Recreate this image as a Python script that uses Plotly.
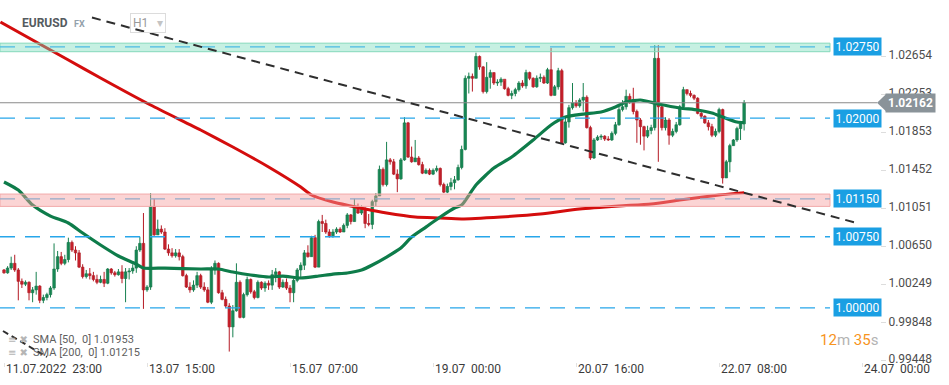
import plotly.graph_objects as go

# ---------------- data ----------------
symbol = "EURUSD"
open_first = 1.0040
close = [
1.0037, 1.0042, 1.0047, 1.0040, 1.0028, 1.0025, 1.0027, 1.0016, 1.0019, 1.0023,
1.0008, 1.0011, 1.0014, 1.0021, 1.0041, 1.0054, 1.0047, 1.0051, 1.0069, 1.0061,
1.0058, 1.0043, 1.0033, 1.0036, 1.0034, 1.0030, 1.0027, 1.0030, 1.0026, 1.0041,
1.0037, 1.0035, 1.0038, 1.0031, 1.0038, 1.0039, 1.0042, 1.0061, 1.0068, 1.0019,
1.0022, 1.0107, 1.0077, 1.0083, 1.0080, 1.0062, 1.0058, 1.0055, 1.0058, 1.0054,
1.0034, 1.0022, 1.0019, 1.0024, 1.0034, 1.0022, 1.0019, 1.0006, 1.0040, 1.0047,
1.0016, 1.0009, 1.0002, 0.9980, 0.9997, 1.0027, 0.9990, 1.0014, 1.0030, 1.0017,
1.0011, 1.0027, 1.0021, 1.0026, 1.0024, 1.0035, 1.0038, 1.0022, 1.0027, 1.0021,
1.0016, 1.0029, 1.0040, 1.0045, 1.0058, 1.0054, 1.0074, 1.0043, 1.0091, 1.0089,
1.0080, 1.0076, 1.0080, 1.0083, 1.0080, 1.0087, 1.0098, 1.0091, 1.0107, 1.0100,
1.0105, 1.0089, 1.0088, 1.0112, 1.0118, 1.0146, 1.0130, 1.0156, 1.0154, 1.0141,
1.0136, 1.0156, 1.0195, 1.0159, 1.0154, 1.0158, 1.0151, 1.0142, 1.0145, 1.0141,
1.0145, 1.0147, 1.0130, 1.0122, 1.0128, 1.0132, 1.0135, 1.0148, 1.0167, 1.0242,
1.0244, 1.0242, 1.0265, 1.0254, 1.0228, 1.0243, 1.0248, 1.0237, 1.0238, 1.0241,
1.0231, 1.0224, 1.0226, 1.0230, 1.0237, 1.0234, 1.0248, 1.0242, 1.0233, 1.0242,
1.0243, 1.0237, 1.0251, 1.0224, 1.0233, 1.0250, 1.0174, 1.0196, 1.0211, 1.0216,
1.0213, 1.0219, 1.0222, 1.0190, 1.0158, 1.0177, 1.0180, 1.0181, 1.0178, 1.0177,
1.0184, 1.0193, 1.0209, 1.0212, 1.0223, 1.0218, 1.0207, 1.0198, 1.0191, 1.0181,
1.0187, 1.0190, 1.0263, 1.0212, 1.0190, 1.0198, 1.0182, 1.0186, 1.0193, 1.0212,
1.0230, 1.0226, 1.0224, 1.0221, 1.0205, 1.0202, 1.0195, 1.0191, 1.0182, 1.0186,
1.0209, 1.0137, 1.0154, 1.0171, 1.0177, 1.0189, 1.0194, 1.02162,
]
high = [
1.0041, 1.0044, 1.0054, 1.0056, 1.0042, 1.0031, 1.0029, 1.0028, 1.0022, 1.0038,
1.0024, 1.0014, 1.0016, 1.0023, 1.0068, 1.0060, 1.0059, 1.0056, 1.0074, 1.0071,
1.0065, 1.0061, 1.0046, 1.0040, 1.0042, 1.0038, 1.0035, 1.0034, 1.0038, 1.0042,
1.0042, 1.0039, 1.0041, 1.0045, 1.0042, 1.0042, 1.0046, 1.0065, 1.0075, 1.0100,
1.0024, 1.0121, 1.0115, 1.0093, 1.0087, 1.0084, 1.0067, 1.0063, 1.0062, 1.0062,
1.0056, 1.0036, 1.0027, 1.0029, 1.0038, 1.0036, 1.0027, 1.0022, 1.0044, 1.0050,
1.0048, 1.0019, 1.0012, 1.0005, 1.0003, 1.0047, 1.0029, 1.0016, 1.0033, 1.0031,
1.0019, 1.0029, 1.0028, 1.0028, 1.0029, 1.0040, 1.0042, 1.0039, 1.0030, 1.0031,
1.0024, 1.0031, 1.0042, 1.0048, 1.0061, 1.0066, 1.0076, 1.0077, 1.0093, 1.0098,
1.0093, 1.0083, 1.0083, 1.0085, 1.0085, 1.0089, 1.0100, 1.0099, 1.0115, 1.0110,
1.0108, 1.0106, 1.0099, 1.0114, 1.0121, 1.0150, 1.0148, 1.0175, 1.0158, 1.0157,
1.0146, 1.0158, 1.0201, 1.0196, 1.0170, 1.0177, 1.0160, 1.0154, 1.0147, 1.0147,
1.0147, 1.0150, 1.0148, 1.0132, 1.0131, 1.0137, 1.0139, 1.0151, 1.0171, 1.0245,
1.0248, 1.0247, 1.0269, 1.0266, 1.0255, 1.0259, 1.0251, 1.0248, 1.0241, 1.0243,
1.0239, 1.0233, 1.0229, 1.0232, 1.0239, 1.0240, 1.0251, 1.0249, 1.0243, 1.0245,
1.0247, 1.0245, 1.0253, 1.0274, 1.0235, 1.0253, 1.0252, 1.0200, 1.0214, 1.0237,
1.0219, 1.0221, 1.0237, 1.0224, 1.0192, 1.0179, 1.0182, 1.0183, 1.0182, 1.0181,
1.0186, 1.0196, 1.0212, 1.0219, 1.0230, 1.0226, 1.0232, 1.0209, 1.0200, 1.0192,
1.0192, 1.0193, 1.0277, 1.0277, 1.0214, 1.0201, 1.0200, 1.0189, 1.0196, 1.0214,
1.0233, 1.0230, 1.0229, 1.0225, 1.0222, 1.0207, 1.0203, 1.0198, 1.0194, 1.0189,
1.0211, 1.0210, 1.0156, 1.0173, 1.0178, 1.0191, 1.0197, 1.0219,
]
low = [
1.0036, 1.0036, 1.0040, 1.0038, 1.0008, 1.0021, 1.0023, 1.0008, 1.0006, 1.0014,
1.0005, 1.0005, 1.0008, 1.0011, 1.0019, 1.0038, 1.0045, 1.0045, 1.0048, 1.0059,
1.0050, 1.0042, 1.0031, 1.0031, 1.0030, 1.0028, 1.0025, 1.0026, 1.0022, 1.0025,
1.0035, 1.0033, 1.0034, 1.0026, 1.0006, 1.0030, 1.0036, 1.0037, 1.0059, 0.9999,
1.0017, 1.0019, 1.0076, 1.0077, 1.0078, 1.0061, 1.0055, 1.0053, 1.0053, 1.0050,
1.0033, 1.0021, 1.0016, 1.0017, 1.0021, 1.0020, 1.0017, 1.0005, 1.0004, 1.0035,
1.0015, 1.0008, 1.0000, 0.9954, 0.9969, 0.9996, 0.9989, 0.9989, 1.0012, 1.0015,
1.0009, 1.0010, 1.0019, 1.0017, 1.0019, 1.0019, 1.0027, 1.0020, 1.0021, 1.0019,
1.0006, 1.0006, 1.0027, 1.0031, 1.0040, 1.0053, 1.0054, 1.0042, 1.0043, 1.0080,
1.0078, 1.0074, 1.0074, 1.0078, 1.0079, 1.0080, 1.0084, 1.0088, 1.0091, 1.0099,
1.0098, 1.0084, 1.0086, 1.0083, 1.0107, 1.0118, 1.0128, 1.0128, 1.0151, 1.0140,
1.0122, 1.0135, 1.0155, 1.0158, 1.0153, 1.0154, 1.0150, 1.0141, 1.0141, 1.0140,
1.0140, 1.0143, 1.0128, 1.0121, 1.0121, 1.0124, 1.0125, 1.0134, 1.0146, 1.0166,
1.0226, 1.0228, 1.0242, 1.0251, 1.0226, 1.0226, 1.0231, 1.0235, 1.0234, 1.0234,
1.0230, 1.0223, 1.0220, 1.0223, 1.0228, 1.0232, 1.0231, 1.0240, 1.0232, 1.0232,
1.0238, 1.0236, 1.0236, 1.0223, 1.0224, 1.0230, 1.0173, 1.0173, 1.0190, 1.0209,
1.0211, 1.0211, 1.0207, 1.0189, 1.0156, 1.0157, 1.0176, 1.0177, 1.0176, 1.0176,
1.0176, 1.0182, 1.0192, 1.0207, 1.0209, 1.0215, 1.0204, 1.0174, 1.0172, 1.0166,
1.0179, 1.0183, 1.0187, 1.0154, 1.0187, 1.0187, 1.0172, 1.0180, 1.0184, 1.0192,
1.0211, 1.0224, 1.0222, 1.0219, 1.0204, 1.0200, 1.0194, 1.0187, 1.0180, 1.0180,
1.0184, 1.0131, 1.0137, 1.0143, 1.0171, 1.0175, 1.0177, 1.0187,
]

sma50_x = [0, 4, 8, 13, 18, 22, 27, 32, 37, 39, 45, 55, 60, 64, 69, 74, 78, 83, 88, 92,
           96, 100, 103, 107, 111, 114, 118, 122, 126, 128, 132, 137, 142, 148, 153, 157,
           162, 167, 171, 174, 178, 183, 189, 194, 198, 201, 205, 207]
sma50_y = [1.01327, 1.01242, 1.01084, 1.00968, 1.00895, 1.00789, 1.00663, 1.00547, 1.00462,
           1.00420, 1.00420, 1.00410, 1.00410, 1.00378, 1.00347, 1.00326, 1.00336, 1.00315,
           1.00336, 1.00357, 1.00368, 1.00399, 1.00452, 1.00536, 1.00631, 1.00747, 1.00852,
           1.00958, 1.01053, 1.01084, 1.01295, 1.01474, 1.01590, 1.01769, 1.01928, 1.02012,
           1.02043, 1.02065, 1.02117, 1.02170, 1.02191, 1.02149, 1.02107, 1.02086, 1.02054,
           1.02012, 1.01959, 1.01953]
sma200_x = [-1, 18, 27, 41, 55, 64, 74, 83, 86, 92, 97, 101, 107, 115, 122, 128, 139, 150,
            161, 172, 181, 189, 200, 207]
sma200_y = [1.03013, 1.02613, 1.02423, 1.02138, 1.01875, 1.01696, 1.01485, 1.01274, 1.01190,
            1.01116, 1.01074, 1.01042, 1.01000, 1.00958, 1.00947, 1.00937, 1.00958, 1.00989,
            1.01042, 1.01074, 1.01095, 1.01137, 1.01190, 1.01215]

trend_x = [24.6, 238.0]
trend_y = [1.0306, 1.0090]

levels = [1.0275, 1.0200, 1.0115, 1.0075, 1.0000]
level_labels = ["1.02750", "1.02000", "1.01150", "1.00750", "1.00000"]
green_zone = [1.0270, 1.0279]
red_zone = [1.0107, 1.0120]
current_price = 1.02162
sma50_last = "1.01953"
sma200_last = "1.01215"

ytick_vals = [1.02654, 1.02253, 1.01853, 1.01452, 1.01051, 1.00650, 1.00249, 0.99848, 0.99448]
xtick_pos = [0, 40, 80, 120, 160, 200, 240]
xtick_text = ["11.07.2022\u00a0\u00a023:00", "13.07\u00a0\u00a015:00", "15.07\u00a0\u00a007:00",
              "19.07\u00a0\u00a000:00", "20.07\u00a0\u00a016:00", "22.07\u00a0\u00a008:00",
              "24.07\u00a0\u00a000:00"]

# ---------------- geometry ----------------
W, H = 949, 385
ML, MR, MT, MB = 0, 69, 0, 23
PW, PH = W - ML - MR, H - MT - MB
YMIN, YMAX = 0.99430, 1.03245
XMIN, XMAX = -1.12, 245.0
FONT = "Roboto, Arial, sans-serif"

assert len(close) == len(high) == len(low)
n = len(close)
opens = [open_first] + close[:-1]
idx = list(range(n))

fig = go.Figure()

# wicks
for up, col in [(True, "#17804f"), (False, "#b51a24")]:
    wx, wy = [], []
    for i in idx:
        if (close[i] >= opens[i]) == up:
            wx += [i, i, None]
            wy += [low[i], high[i], None]
    fig.add_trace(go.Scatter(x=wx, y=wy, mode="lines", line=dict(color=col, width=1),
                             hoverinfo="skip", showlegend=False))

# bodies
for up, fill, edge in [(True, "#1b9660", "#0c6a3d"), (False, "#de2c37", "#a3121c")]:
    bx, bb, bh = [], [], []
    for i in idx:
        if (close[i] >= opens[i]) == up:
            lo = min(opens[i], close[i])
            bx.append(i)
            bb.append(lo)
            bh.append(max(abs(close[i] - opens[i]), 0.00003))
    fig.add_trace(go.Bar(x=bx, y=bh, base=bb, width=0.72,
                         marker=dict(color=fill, line=dict(color=edge, width=0.6)),
                         hoverinfo="skip", showlegend=False))

# moving averages
fig.add_trace(go.Scatter(x=sma200_x, y=sma200_y, mode="lines",
                         line=dict(color="#d40d0d", width=3, shape="spline", smoothing=0.6),
                         hoverinfo="skip", showlegend=False))
fig.add_trace(go.Scatter(x=sma50_x, y=sma50_y, mode="lines",
                         line=dict(color="#0e7c4a", width=3.2, shape="spline", smoothing=0.6),
                         hoverinfo="skip", showlegend=False))

shapes = []
xr_end = 830 / PW
# zones
shapes.append(dict(type="rect", xref="paper", yref="y", x0=0, x1=xr_end,
                   y0=green_zone[0], y1=green_zone[1], fillcolor="rgba(120,220,185,0.42)",
                   line=dict(color="#86d9bb", width=1), layer="above"))
shapes.append(dict(type="rect", xref="paper", yref="y", x0=0, x1=xr_end,
                   y0=red_zone[0], y1=red_zone[1], fillcolor="rgba(246,160,160,0.45)",
                   line=dict(color="#f2a9a9", width=1), layer="above"))
# level lines
level_cols = ["#4bb9e4", "#27a6ea", "#93a9c8", "#27a6ea", "#27a6ea"]
for lv, c in zip(levels, level_cols):
    shapes.append(dict(type="line", xref="paper", yref="y", x0=0, x1=xr_end, y0=lv, y1=lv,
                       line=dict(color=c, width=1.3, dash="15px,10px"), layer="above"))
# current price line
shapes.append(dict(type="line", xref="paper", yref="y", x0=0, x1=877 / PW,
                   y0=current_price, y1=current_price,
                   line=dict(color="#8a8a8a", width=1), layer="above"))
# trend line
shapes.append(dict(type="line", xref="x", yref="y", x0=trend_x[0], x1=trend_x[1],
                   y0=trend_y[0], y1=trend_y[1],
                   line=dict(color="#2e2e2e", width=2, dash="9px,6px"), layer="above"))
# small trend line piece at bottom-left
shapes.append(dict(type="line", xref="paper", yref="paper", x0=3 / PW, x1=47 / PW,
                   y0=1 - 331 / PH, y1=1 - 357 / PH,
                   line=dict(color="#2e2e2e", width=2, dash="6px,4px"), layer="above"))


def ypaper(p):
    return (p - YMIN) / (YMAX - YMIN)


yc = ypaper(current_price)
hpx = 8.5 / PH
shapes.append(dict(type="path", xref="paper", yref="paper",
                   path=f"M {877/PW} {yc} L {886/PW} {yc+hpx} L {886/PW} {yc-hpx} Z",
                   fillcolor="#8a9399", line=dict(width=0), layer="above"))

annotations = []
for lv, txt in zip(levels, level_labels):
    annotations.append(dict(xref="paper", yref="y", x=833 / PW, y=lv, text=txt,
                            xanchor="left", yanchor="middle", showarrow=False,
                            bgcolor="#1a9fe3", borderpad=1.5,
                            font=dict(family=FONT, size=12, color="white")))
annotations.append(dict(xref="paper", yref="y", x=885 / PW, y=current_price,
                        text=f"<b>{current_price:.5f}</b>", xanchor="left", yanchor="middle",
                        showarrow=False, bgcolor="#8a9399", borderpad=2,
                        font=dict(family=FONT, size=12, color="white")))
for xp, t in zip(xtick_pos, xtick_text):
    annotations.append(dict(xref="x", yref="paper", x=xp, y=0, yshift=2, text=t,
                            xanchor="left", yanchor="top", showarrow=False,
                            font=dict(family=FONT, size=12, color="#3a3a3a")))
# header
annotations.append(dict(xref="paper", yref="paper", x=20 / PW, y=1 - 23 / PH,
                        text=f"<b>{symbol}</b>", xanchor="left", yanchor="middle",
                        showarrow=False, font=dict(family=FONT, size=12, color="#555b60")))
annotations.append(dict(xref="paper", yref="paper", x=72 / PW, y=1 - 24 / PH,
                        text="<b>FX</b>", xanchor="left", yanchor="middle",
                        showarrow=False, font=dict(family=FONT, size=9, color="#93a1ab")))
annotations.append(dict(xref="paper", yref="paper", x=130 / PW, y=1 - 23.5 / PH,
                        text="H1\u00a0\u00a0\u00a0<span style='color:#c4c4c4'>\u25be</span>",
                        xanchor="left", yanchor="middle", showarrow=False,
                        bordercolor="#dcdcdc", borderwidth=1, borderpad=2,
                        font=dict(family=FONT, size=12, color="#9a9a9a")))
# SMA legend
for k, (nm, val) in enumerate([("SMA [50,\u00a0 0]", sma50_last), ("SMA [200,\u00a0 0]", sma200_last)]):
    yy = 1 - (339 + 13 * k) / PH
    annotations.append(dict(xref="paper", yref="paper", x=6 / PW, y=yy,
                            text="<span style='color:#b5b5b5'>\u2261 \u2716</span>",
                            xanchor="left", yanchor="middle", showarrow=False,
                            font=dict(family="DejaVu Sans", size=10, color="#b5b5b5")))
    annotations.append(dict(xref="paper", yref="paper", x=31 / PW, y=yy,
                            text=f"{nm} {val}", xanchor="left", yanchor="middle",
                            showarrow=False, font=dict(family=FONT, size=11, color="#5f5f5f")))
# countdown
annotations.append(dict(xref="paper", yref="paper", x=1.0, y=1 - 340 / PH,
                        text="<span style='color:#f7941d'>12</span><span style='color:#b3b3b3'>m</span> "
                             "<span style='color:#f7941d'>35</span><span style='color:#b3b3b3'>s</span>",
                        xanchor="right", yanchor="middle", showarrow=False,
                        font=dict(family=FONT, size=15, color="#f7941d")))

fig.update_layout(
    width=W, height=H, autosize=False,
    margin=dict(l=ML, r=MR, t=MT, b=MB),
    paper_bgcolor="white", plot_bgcolor="white",
    barmode="overlay", showlegend=False,
    shapes=shapes, annotations=annotations,
    font=dict(family=FONT),
    xaxis=dict(range=[XMIN, XMAX], showgrid=False, zeroline=False, showline=False,
               tickvals=xtick_pos, ticks="outside", ticklen=4, tickcolor="#e2e2e2",
               showticklabels=False, fixedrange=True),
    yaxis=dict(range=[YMIN, YMAX], side="right", showgrid=False, zeroline=False,
               showline=False, tickvals=ytick_vals,
               ticktext=[f"{v:.5f}" for v in ytick_vals],
               ticks="outside", ticklen=5, tickcolor="#dddddd",
               tickfont=dict(family=FONT, size=12, color="#4d4d4d"),
               ticklabelshift=-1,
               automargin=False, fixedrange=True),
)

fig.write_html("out.html", config={"displayModeBar": False},
               post_script="document.body.style.margin='0';document.body.style.overflow='hidden';")
